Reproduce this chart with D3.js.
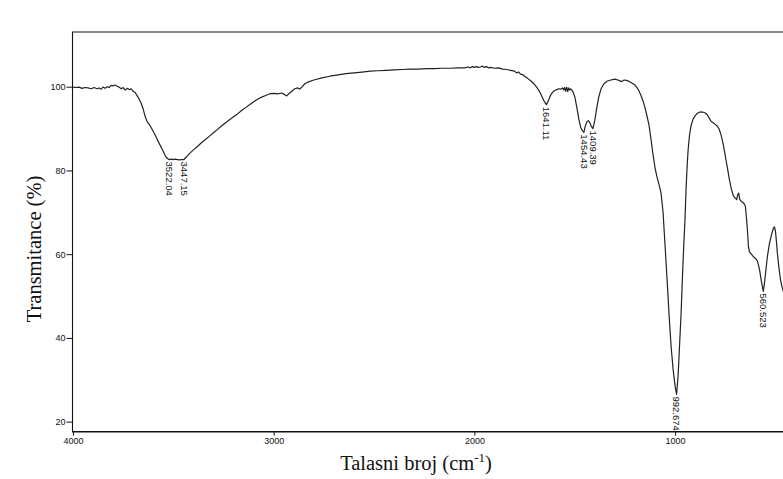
<!DOCTYPE html>
<html>
<head>
<meta charset="utf-8">
<script src="https://cdn.jsdelivr.net/npm/d3@7"></script>
<style>
  html, body { margin: 0; padding: 0; background: #fff; }
  svg { display: block; }
</style>
</head>
<body>
<svg id="chart" width="783" height="479"></svg>
<script>
// IR spectrum: wavenumber (cm-1) and transmittance (%)
const wavenumber = [
  4000, 3985, 3970, 3955, 3940, 3925, 3910, 3895, 3880, 3870, 3860, 3850, 3840, 3830, 3820, 3810,
  3800, 3790, 3780, 3770, 3760, 3750, 3740, 3730, 3720, 3710, 3700, 3690, 3680, 3670, 3660, 3650,
  3640, 3630, 3620, 3610, 3600, 3590, 3580, 3570, 3560, 3550, 3540, 3530, 3522.04, 3510, 3500, 3490,
  3480, 3470, 3460, 3447.15, 3435, 3420, 3400, 3380, 3360, 3340, 3320, 3300, 3280, 3260, 3240, 3220,
  3200, 3180, 3160, 3140, 3120, 3100, 3080, 3060, 3040, 3020, 3000, 2980, 2960, 2945, 2935, 2925,
  2910, 2895, 2880, 2870, 2860, 2845, 2830, 2800, 2760, 2720, 2680, 2640, 2600, 2560, 2520, 2480,
  2440, 2400, 2360, 2320, 2280, 2240, 2200, 2160, 2120, 2080, 2050, 2030, 2020, 2010, 2000, 1990,
  1980, 1970, 1960, 1950, 1940, 1930, 1920, 1900, 1880, 1860, 1840, 1820, 1800, 1790, 1780, 1770,
  1760, 1750, 1740, 1730, 1720, 1710, 1700, 1690, 1680, 1670, 1660, 1650, 1641.11, 1630, 1620, 1610,
  1600, 1590, 1580, 1570, 1560, 1555, 1550, 1545, 1540, 1535, 1530, 1525, 1520, 1510, 1500, 1490,
  1480, 1470, 1460, 1454.43, 1448, 1440, 1432, 1425, 1418, 1409.39, 1400, 1390, 1380, 1370, 1360, 1350,
  1340, 1320, 1300, 1285, 1275, 1265, 1258, 1250, 1235, 1220, 1200, 1190, 1180, 1170, 1160, 1150,
  1140, 1130, 1120, 1110, 1100, 1090, 1080, 1070, 1060, 1050, 1040, 1030, 1020, 1010, 1000, 992.674,
  985, 978, 970, 963, 957, 951, 945, 940, 935, 928, 920, 910, 900, 890, 880, 870,
  860, 850, 840, 830, 820, 810, 800, 790, 780, 770, 760, 750, 740, 730, 720, 710,
  700, 693, 688, 683, 678, 670, 660, 650, 645, 640, 635, 630, 620, 610, 600, 590,
  580, 570, 560.523, 555, 548, 540, 530, 520, 510, 505, 500, 495, 490, 482, 475, 468,
  460, 450
];
const transmittance = [
  99.9, 99.8, 99.9, 99.6, 99.8, 99.7, 99.5, 99.8, 99.5, 99.7, 99.4, 99.9, 99.6, 100.0, 99.8, 100.3,
  100.2, 100.4, 100.1, 99.9, 99.5, 99.8, 99.2, 99.6, 99.3, 99.5, 98.9, 98.6, 97.8, 97.0, 96.0, 94.6,
  92.8, 91.6, 91.0, 90.2, 89.3, 88.4, 87.4, 86.4, 85.5, 84.5, 83.5, 82.9, 82.6, 82.7, 82.6, 82.7,
  82.6, 82.5, 82.6, 82.6, 83.2, 84.0, 84.9, 85.7, 86.6, 87.4, 88.2, 89.0, 89.8, 90.6, 91.4, 92.1,
  92.8, 93.5, 94.3, 95.0, 95.7, 96.4, 97.0, 97.5, 97.9, 98.3, 98.4, 98.3, 98.5, 98.1, 97.8, 98.3,
  98.9, 99.5, 99.7, 99.4, 99.9, 100.7, 101.1, 101.6, 102.1, 102.5, 102.8, 103.1, 103.3, 103.5, 103.7, 103.8,
  103.9, 104.0, 104.1, 104.2, 104.2, 104.3, 104.3, 104.4, 104.4, 104.5, 104.5, 104.7, 104.5, 104.8, 104.6, 104.8,
  104.6, 104.7, 104.9, 104.6, 104.8, 104.5, 104.6, 104.4, 104.5, 104.2, 104.1, 103.9, 103.7, 103.3, 103.5, 103.0,
  102.9, 102.5, 102.2, 101.8, 101.4, 101.0, 100.5, 99.9, 99.2, 98.3, 97.3, 96.3, 95.7, 96.8, 98.0, 98.7,
  99.1, 99.3, 99.5, 99.4, 99.7, 99.2, 99.8, 98.9, 99.9, 98.8, 99.7, 99.2, 99.5, 98.9, 97.6, 95.2,
  92.3, 90.2, 89.4, 89.1, 90.5, 91.6, 91.9, 91.4, 90.6, 90.0, 92.0, 95.0, 97.6, 99.3, 100.3, 100.9,
  101.3, 101.6, 101.8, 101.6, 101.4, 101.2, 101.5, 101.6, 101.4, 101.0, 100.4, 99.8, 99.0, 97.9, 96.6, 95.0,
  93.0, 90.8, 87.4, 83.8, 80.6, 78.4, 76.6, 74.6, 70.0, 62.0, 54.0, 45.5, 38.0, 32.5, 28.5, 26.5,
  31.0, 38.0, 46.0, 55.0, 62.0, 68.0, 76.0, 81.0, 85.0, 88.5, 90.8, 92.3, 93.1, 93.6, 93.9, 94.0,
  93.9, 93.7, 93.3, 92.5, 91.7, 91.4, 91.0, 90.6, 89.8, 88.3, 86.2, 83.5, 80.8, 78.0, 75.6, 74.0,
  73.4, 73.0, 74.2, 74.6, 73.1, 72.6, 72.3, 71.5, 69.0, 66.0, 62.0, 60.6, 60.0, 59.4, 59.0, 58.4,
  56.5, 53.5, 51.1, 53.0, 56.0, 59.5, 62.5, 64.6, 66.2, 66.5, 65.5, 63.0, 60.0, 56.5, 54.0, 52.3,
  51.0, 50.0
];

// Labelled band positions (cm-1)
const peakLabels = ["3522.04", "3447.15", "1641.11", "1454.43", "1409.39", "992.674", "560.523"];

// Axis ticks
const xTicks = [4000, 3000, 2000, 1000];
const yTicks = [20, 40, 60, 80, 100];

const xTitle = "Talasni broj (cm";
const xTitleSup = "-1";
const yTitle = "Transmitance (%)";

const svg = d3.select("#chart");

const plot = { left: 73, top: 32, bottom: 431.7 };

const x = d3.scaleLinear().domain([4000, 450]).range([plot.left, plot.left + 3550 * 0.2007]);
const y = d3.scaleLinear().domain([17.6, 113.06]).range([plot.bottom, plot.top]);

const tickFont = "Arial, 'Liberation Sans', sans-serif";
const titleFont = "'Times New Roman', 'Liberation Serif', serif";

// Frame: left and top edges
svg.append("path")
  .attr("d", `M${plot.left - 0.5},${plot.bottom} V${plot.top} H790`)
  .attr("fill", "none")
  .attr("stroke", "#111")
  .attr("stroke-width", 1.1);

// Bottom axis
const xAxis = d3.axisBottom(x)
  .tickValues(xTicks)
  .tickSize(4)
  .tickPadding(2)
  .tickFormat(d3.format("d"));

const gx = svg.append("g")
  .attr("transform", `translate(0,${plot.bottom})`)
  .call(xAxis);
gx.select(".domain").remove();
gx.append("line")
  .attr("x1", plot.left - 1).attr("x2", 790)
  .attr("y1", 0).attr("y2", 0)
  .attr("stroke", "#111").attr("stroke-width", 1.6);
gx.selectAll(".tick line").attr("stroke", "#111");
gx.selectAll(".tick text")
  .attr("font-family", tickFont)
  .attr("font-size", 9)
  .attr("fill", "#111");

// Left axis
const yAxis = d3.axisLeft(y)
  .tickValues(yTicks)
  .tickSize(6)
  .tickPadding(1)
  .tickFormat(d3.format("d"));

const gy = svg.append("g")
  .attr("transform", `translate(${plot.left - 0.5},0)`)
  .call(yAxis);
gy.select(".domain").remove();
gy.selectAll(".tick line").attr("stroke", "#111");
gy.selectAll(".tick text")
  .attr("font-family", tickFont)
  .attr("font-size", 9)
  .attr("fill", "#111");

// Spectrum trace
const points = wavenumber.map((w, i) => [w, transmittance[i]]);
const line = d3.line()
  .x(d => x(d[0]))
  .y(d => y(d[1]))
  .curve(d3.curveLinear);

svg.append("path")
  .datum(points)
  .attr("d", line)
  .attr("fill", "none")
  .attr("stroke", "#222")
  .attr("stroke-width", 1.2)
  .attr("stroke-linejoin", "round");

// Band labels, written downward from each minimum
peakLabels.forEach(lbl => {
  const w = +lbl;
  const i = wavenumber.indexOf(w);
  const px = x(w), py = y(transmittance[i]);
  svg.append("text")
    .attr("transform", `translate(${px},${py + 2}) rotate(90)`)
    .attr("dy", "0.35em")
    .attr("text-anchor", "start")
    .attr("font-family", tickFont)
    .attr("font-size", 9.5)
    .attr("fill", "#111")
    .text(lbl);
});

// Axis titles
const xt = svg.append("text")
  .attr("x", 416)
  .attr("y", 470)
  .attr("text-anchor", "middle")
  .attr("font-family", titleFont)
  .attr("font-size", 20.5)
  .attr("fill", "#111");
xt.append("tspan").text(xTitle);
xt.append("tspan").attr("dy", -8).attr("font-size", 13).text(xTitleSup);
xt.append("tspan").attr("dy", 8).text(")");

svg.append("text")
  .attr("transform", `translate(41,249) rotate(-90)`)
  .attr("text-anchor", "middle")
  .attr("font-family", titleFont)
  .attr("font-size", 20.5)
  .attr("fill", "#111")
  .text(yTitle);
</script>
</body>
</html>
